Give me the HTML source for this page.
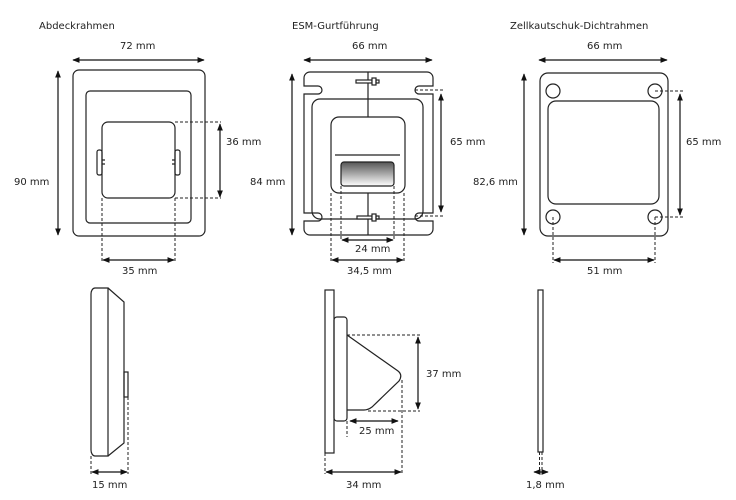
<!DOCTYPE html>
<html><head><meta charset="utf-8"><style>body{margin:0;background:#fff}svg{display:block}text{font-family:"DejaVu Sans","Liberation Sans",sans-serif;font-size:10px;fill:#222}</style></head><body>
<svg width="736" height="500" viewBox="0 0 736 500" xmlns="http://www.w3.org/2000/svg">
<defs>
<marker id="a" viewBox="0 0 10 10" refX="9" refY="5" markerWidth="6" markerHeight="6" orient="auto-start-reverse"><path d="M0,1 L10,5 L0,9 z" fill="#111"/></marker>
<linearGradient id="g" x1="0" y1="0" x2="0" y2="1"><stop offset="0" stop-color="#555"/><stop offset="1" stop-color="#fff"/></linearGradient>
</defs>
<g fill="none" stroke="#222" stroke-width="1.2">
<!-- Panel 1 -->
<rect x="73" y="70" width="132" height="166" rx="6"/>
<rect x="86" y="91" width="105" height="132" rx="4"/>
<rect x="102" y="122" width="73" height="76" rx="6"/>
<rect x="97" y="150" width="5" height="25" rx="2"/><rect x="175" y="150" width="5" height="25" rx="2"/>
<path d="M102,160h3M102,164h3M175,160h-3M175,164h-3"/>
<!-- Panel 2 -->
<path d="M310,72 H427 a6,6 0 0 1 6,6 V86 H419 a4,4 0 0 0 0,8 H433 V213 H419 a4,4 0 0 0 0,8 H433 V229 a6,6 0 0 1 -6,6 H310 a6,6 0 0 1 -6,-6 V221 H318 a4,4 0 0 0 0,-8 H304 V94 H318 a4,4 0 0 0 0,-8 H304 V78 a6,6 0 0 1 6,-6z"/>
<rect x="312" y="99" width="111" height="120" rx="8"/>
<rect x="331" y="117" width="74" height="76" rx="8"/>
<path d="M335,155H400M368,72V117M368,193V235"/>
<rect x="341" y="162" width="53" height="24" rx="3" fill="url(#g)"/>
<rect x="356" y="80" width="16" height="3" fill="#fff"/><rect x="372" y="78" width="4" height="7" fill="#fff"/><rect x="376" y="80" width="3" height="3"/>
<rect x="357" y="216" width="15" height="3" fill="#fff"/><rect x="372" y="214" width="4" height="7" fill="#fff"/><rect x="376" y="216" width="3" height="3"/>
<!-- Panel 3 -->
<rect x="540" y="73" width="128" height="163" rx="8"/>
<rect x="548" y="101" width="111" height="103" rx="8"/>
<circle cx="553" cy="91" r="7"/><circle cx="655" cy="91" r="7"/><circle cx="553" cy="217" r="7"/><circle cx="655" cy="217" r="7"/>
<!-- Bottom 1 -->
<path d="M95,288H108V456H95a4,6 0 0 1 -4,-6V294a4,6 0 0 1 4,-6z"/>
<path d="M108,288L124,302V443L108,456"/>
<rect x="124" y="372" width="4" height="25"/>
<!-- Bottom 2 -->
<rect x="325" y="290" width="9" height="163"/>
<rect x="334" y="317" width="13" height="104" rx="3"/>
<path d="M347,335L398,371Q403,375 399,381L372,407Q368,410 364,410H347"/>
<!-- Bottom 3 -->
<rect x="538" y="290" width="5" height="162"/>
</g>
<!-- dashed -->
<g fill="none" stroke="#222" stroke-width="1" stroke-dasharray="3,2">
<path d="M175,122H221M175,198H221M102,198V263M175,198V263"/>
<path d="M415,90H443M415,216H443M331,193V263M404,193V263M341,186V241M394,186V241"/>
<path d="M655,91H683M655,217H683M553,217V263M655,217V263"/>
<path d="M91,456V474M128,397V474"/>
<path d="M347,335H420M368,411H420M347,421V437M325,453V474M402,380V474"/>
<path d="M539.5,452V471M542,452V471"/>
</g>
<!-- arrows -->
<g fill="none" stroke="#111" stroke-width="1.2" marker-start="url(#a)" marker-end="url(#a)">
<path d="M73,60H204"/><path d="M58,71V235"/><path d="M220,124V197"/><path d="M103,260H174"/>
<path d="M304,60H432"/><path d="M292,74V235"/><path d="M441,94V212"/><path d="M342,240H393"/><path d="M332,260H403"/>
<path d="M539,60H667"/><path d="M524,74V235"/><path d="M680,94V215"/><path d="M554,260H654"/>
<path d="M92,472H127"/><path d="M418,337V409"/><path d="M350,421H398"/><path d="M326,472H401"/><path d="M534,472H548"/>
</g>
<text x="39" y="29">Abdeckrahmen</text><text x="120" y="49">72 mm</text><text x="14" y="185">90 mm</text><text x="226" y="145">36 mm</text><text x="122" y="274">35 mm</text>
<text x="292" y="29">ESM-Gurtführung</text><text x="352" y="49">66 mm</text><text x="250" y="185">84 mm</text><text x="450" y="145">65 mm</text><text x="355" y="252">24 mm</text><text x="347" y="274">34,5 mm</text>
<text x="510" y="29">Zellkautschuk-Dichtrahmen</text><text x="587" y="49">66 mm</text><text x="473" y="185">82,6 mm</text><text x="686" y="145">65 mm</text><text x="587" y="274">51 mm</text>
<text x="92" y="488">15 mm</text><text x="426" y="377">37 mm</text><text x="359" y="434">25 mm</text><text x="346" y="488">34 mm</text><text x="526" y="488">1,8 mm</text>
</svg>
</body></html>
